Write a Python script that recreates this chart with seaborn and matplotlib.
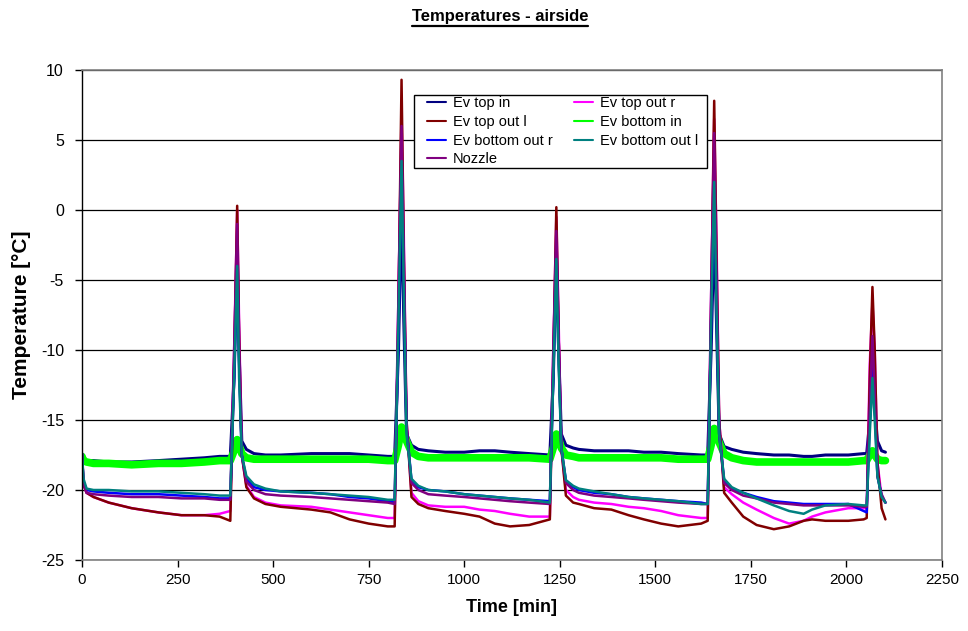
import matplotlib
matplotlib.use("Agg")
import matplotlib.pyplot as plt
from matplotlib.lines import Line2D
from matplotlib.patches import Rectangle
import seaborn as sns
import pandas as pd

# ---------------- data ----------------
time_min = [0, 4, 12, 30, 70, 130, 200, 260, 320, 360, 388,
            398, 406, 411, 418, 430, 450, 480, 520, 600, 650, 700, 750, 800, 818,
            828, 836, 842, 849, 862, 880, 906, 950, 1000, 1040, 1080, 1120, 1170, 1224,
            1233, 1241, 1247, 1254, 1266, 1285, 1300, 1340, 1385, 1430, 1470, 1515, 1560, 1620, 1637,
            1646, 1654, 1660, 1667, 1680, 1700, 1730, 1765, 1810, 1850, 1888, 1910, 1945, 2005, 2045, 2053,
            2061, 2068, 2074, 2081, 2092, 2102]

ev_top_in = [-17.5, -17.8, -17.9, -17.9, -18.0, -18.0, -17.9, -17.8, -17.7, -17.6, -17.6,
             -12.0, -3.0, -10.0, -16.5, -17.1, -17.4, -17.5, -17.5, -17.4, -17.4, -17.4, -17.5, -17.6, -17.6,
             -10.0, 0.5, -8.0, -16.0, -16.8, -17.1, -17.2, -17.3, -17.3, -17.2, -17.2, -17.3, -17.4, -17.5,
             -12.0, -3.0, -10.0, -16.0, -16.8, -17.0, -17.1, -17.2, -17.2, -17.2, -17.3, -17.3, -17.4, -17.5, -17.5,
             -10.0, -1.0, -8.0, -16.0, -16.9, -17.1, -17.3, -17.4, -17.5, -17.5, -17.6, -17.6, -17.5, -17.5, -17.4, -17.4,
             -15.0, -12.0, -14.0, -16.5, -17.2, -17.3]

ev_top_out_l = [-17.4, -19.6, -20.2, -20.5, -20.9, -21.3, -21.6, -21.8, -21.8, -21.9, -22.2,
                -11.0, 0.3, -9.0, -17.5, -19.8, -20.6, -21.0, -21.2, -21.4, -21.6, -22.1, -22.4, -22.6, -22.6,
                -7.0, 9.3, -3.0, -15.0, -20.5, -21.0, -21.3, -21.5, -21.7, -21.9, -22.4, -22.6, -22.5, -22.1,
                -11.0, 0.2, -9.0, -17.0, -20.4, -20.9, -21.0, -21.3, -21.4, -21.8, -22.1, -22.4, -22.6, -22.4, -22.2,
                -7.0, 7.8, -3.0, -15.0, -20.2, -20.9, -21.9, -22.5, -22.8, -22.6, -22.2, -22.1, -22.2, -22.2, -22.1, -22.0,
                -12.0, -5.5, -10.0, -18.0, -21.3, -22.1]

ev_bottom_out_r = [-17.4, -19.4, -20.0, -20.1, -20.2, -20.3, -20.3, -20.4, -20.5, -20.6, -20.6,
                   -12.0, -3.0, -11.0, -17.5, -19.2, -19.8, -20.0, -20.1, -20.2, -20.3, -20.5, -20.6, -20.8, -20.9,
                   -9.0, 4.0, -5.0, -15.5, -19.3, -19.8, -20.0, -20.1, -20.3, -20.4, -20.5, -20.6, -20.7, -20.8,
                   -12.0, -2.5, -10.0, -17.0, -19.3, -19.8, -20.0, -20.2, -20.3, -20.5, -20.6, -20.7, -20.8, -20.9, -21.0,
                   -8.0, 2.0, -6.0, -16.0, -19.3, -19.9, -20.2, -20.5, -20.8, -20.9, -21.0, -21.0, -21.0, -21.0, -21.5, -21.6,
                   -15.0, -10.5, -14.0, -19.0, -20.4, -20.9]

nozzle = [-17.4, -19.6, -20.2, -20.3, -20.4, -20.5, -20.5, -20.6, -20.6, -20.7, -20.7,
          -10.0, -1.0, -10.0, -17.5, -19.4, -20.0, -20.3, -20.4, -20.5, -20.6, -20.7, -20.8, -20.9, -21.0,
          -6.0, 6.0, -4.0, -15.5, -19.5, -20.0, -20.3, -20.4, -20.5, -20.6, -20.7, -20.8, -20.9, -21.0,
          -10.0, -1.5, -9.0, -17.0, -19.5, -20.0, -20.2, -20.4, -20.5, -20.6, -20.7, -20.8, -20.9, -21.0, -21.0,
          -6.0, 5.5, -5.0, -16.0, -19.5, -20.0, -20.4, -20.6, -20.9, -21.0, -21.1, -21.1, -21.1, -21.1, -21.2, -21.2,
          -14.0, -9.0, -13.0, -19.0, -20.3, -20.9]

ev_top_out_r = [-17.4, -19.6, -20.2, -20.5, -20.9, -21.3, -21.6, -21.8, -21.8, -21.7, -21.5,
                -10.0, 0.0, -8.0, -17.5, -19.7, -20.5, -20.9, -21.1, -21.2, -21.4, -21.6, -21.8, -22.0, -22.0,
                -6.0, 7.0, -2.0, -15.0, -20.2, -20.8, -21.1, -21.2, -21.2, -21.4, -21.5, -21.7, -21.9, -21.9,
                -10.0, -0.5, -8.0, -17.0, -20.0, -20.5, -20.7, -20.9, -21.0, -21.2, -21.3, -21.5, -21.8, -22.0, -22.0,
                -6.0, 6.5, -2.0, -15.0, -19.8, -20.3, -20.9, -21.4, -22.0, -22.4, -22.2, -21.9, -21.6, -21.3, -21.3, -21.3,
                -11.0, -6.6, -10.0, -18.0, -20.5, -20.9]

ev_bottom_in = [-17.6, -17.9, -18.0, -18.1, -18.1, -18.2, -18.1, -18.1, -18.0, -17.9, -17.9,
                -17.2, -16.4, -16.8, -17.4, -17.7, -17.8, -17.8, -17.8, -17.8, -17.8, -17.8, -17.8, -17.9, -17.9,
                -16.8, -15.5, -15.8, -16.5, -17.3, -17.6, -17.7, -17.7, -17.7, -17.7, -17.7, -17.7, -17.7, -17.8,
                -17.0, -16.0, -16.3, -17.0, -17.5, -17.6, -17.7, -17.7, -17.7, -17.7, -17.7, -17.7, -17.8, -17.8, -17.8,
                -16.8, -15.6, -15.9, -16.6, -17.4, -17.7, -17.9, -18.0, -18.0, -18.0, -18.0, -18.0, -18.0, -18.0, -17.9, -17.9,
                -17.5, -17.2, -17.5, -17.8, -17.9, -17.9]

ev_bottom_out_l = [-17.4, -19.2, -19.9, -20.0, -20.0, -20.1, -20.1, -20.2, -20.3, -20.4, -20.4,
                   -12.0, -4.0, -12.0, -17.5, -19.0, -19.6, -19.9, -20.1, -20.2, -20.3, -20.4, -20.5, -20.7, -20.7,
                   -8.0, 3.5, -6.0, -16.0, -19.2, -19.7, -20.0, -20.1, -20.3, -20.4, -20.5, -20.6, -20.7, -20.9,
                   -12.0, -3.5, -11.0, -17.0, -19.3, -19.7, -19.9, -20.1, -20.3, -20.5, -20.6, -20.7, -20.8, -21.0, -21.0,
                   -8.0, 2.0, -7.0, -16.0, -19.2, -19.8, -20.2, -20.6, -21.1, -21.5, -21.7, -21.4, -21.1, -21.0, -21.1, -21.1,
                   -16.0, -12.0, -15.0, -19.0, -20.5, -20.9]

series_names = ["Ev top in", "Ev top out l", "Ev bottom out r", "Nozzle",
                "Ev top out r", "Ev bottom in", "Ev bottom out l"]
series_values = [ev_top_in, ev_top_out_l, ev_bottom_out_r, nozzle,
                 ev_top_out_r, ev_bottom_in, ev_bottom_out_l]
series_colors = ["#000080", "#800000", "#0000FF", "#800080",
                 "#FF00FF", "#00FF00", "#008080"]
series_widths = [2.2, 1.8, 1.8, 1.8, 1.8, 5.5, 1.8]
draw_order = [0, 5, 4, 1, 2, 3, 6]

x_ticks = [0, 250, 500, 750, 1000, 1250, 1500, 1750, 2000, 2250]
y_ticks = [-25, -20, -15, -10, -5, 0, 5, 10]

# ---------------- figure ----------------
sns.set_style("white")
plt.rcParams["font.family"] = ["Liberation Sans", "DejaVu Sans"]
plt.rcParams["text.color"] = "black"
plt.rcParams["axes.labelcolor"] = "black"
plt.rcParams["xtick.color"] = "black"
plt.rcParams["ytick.color"] = "black"

fig = plt.figure(figsize=(9.68, 6.31), dpi=100)
ax = fig.add_axes([82 / 968, 1 - 560 / 631, (942 - 82) / 968, (560 - 70) / 631])

for i in draw_order:
    df = pd.DataFrame({"time": time_min, "temp": series_values[i]})
    sns.lineplot(data=df, x="time", y="temp", ax=ax, color=series_colors[i],
                 linewidth=series_widths[i], legend=False, errorbar=None)

ax.set_xlim(0, 2250)
ax.set_ylim(-25, 10)
ax.set_xticks(x_ticks)
ax.set_yticks(y_ticks)
ax.set_xticklabels([str(v) for v in x_ticks], fontsize=11)
ax.set_yticklabels([str(v) for v in y_ticks], fontsize=11.5)
ax.yaxis.grid(True, color="black", linewidth=0.9)
ax.xaxis.grid(False)
ax.set_axisbelow(True)
ax.tick_params(axis="x", direction="out", length=5, width=1, color="black",
               bottom=True, pad=4)
ax.tick_params(axis="y", direction="out", length=5, width=1, color="black",
               left=True, pad=8)
for s in ["top", "right", "bottom"]:
    ax.spines[s].set_color("#808080")
    ax.spines[s].set_linewidth(1.2)
ax.spines["left"].set_color("black")
ax.spines["left"].set_linewidth(1.0)

ax.set_xlabel("Time [min]", fontsize=13, fontweight="bold", labelpad=9)
ax.set_ylabel("Temperature [°C]", fontsize=15, fontweight="bold", labelpad=7)

# legend box drawn as a plain rectangle, entries without their own frame
fig.add_artist(Rectangle((414 / 968, 1 - 168 / 631), 293 / 968, 73 / 631,
                         transform=fig.transFigure, facecolor="white",
                         edgecolor="black", linewidth=1.0, zorder=4))
handles = [Line2D([0], [0], color=series_colors[i], linewidth=1.5) for i in range(7)]
leg = fig.legend(handles, series_names, loc="upper left",
                 bbox_to_anchor=(427 / 968, 1 - 96 / 631), ncol=2, fontsize=10.5,
                 frameon=False, handlelength=1.3, handletextpad=0.45,
                 labelspacing=0.33, columnspacing=1.5, borderpad=0,
                 borderaxespad=0)
leg.set_zorder(5)

title = fig.text(500 / 968, 1 - 17 / 631, "Temperatures - airside", ha="center",
                 va="center", fontsize=12, fontweight="bold")
fig.canvas.draw()
bb = title.get_window_extent().transformed(fig.transFigure.inverted())
fig.add_artist(Line2D([bb.x0, bb.x1], [bb.y0 - 0.002, bb.y0 - 0.002],
                      transform=fig.transFigure, color="black", linewidth=1.6))

fig.savefig("out.png", dpi=100, facecolor="white")
